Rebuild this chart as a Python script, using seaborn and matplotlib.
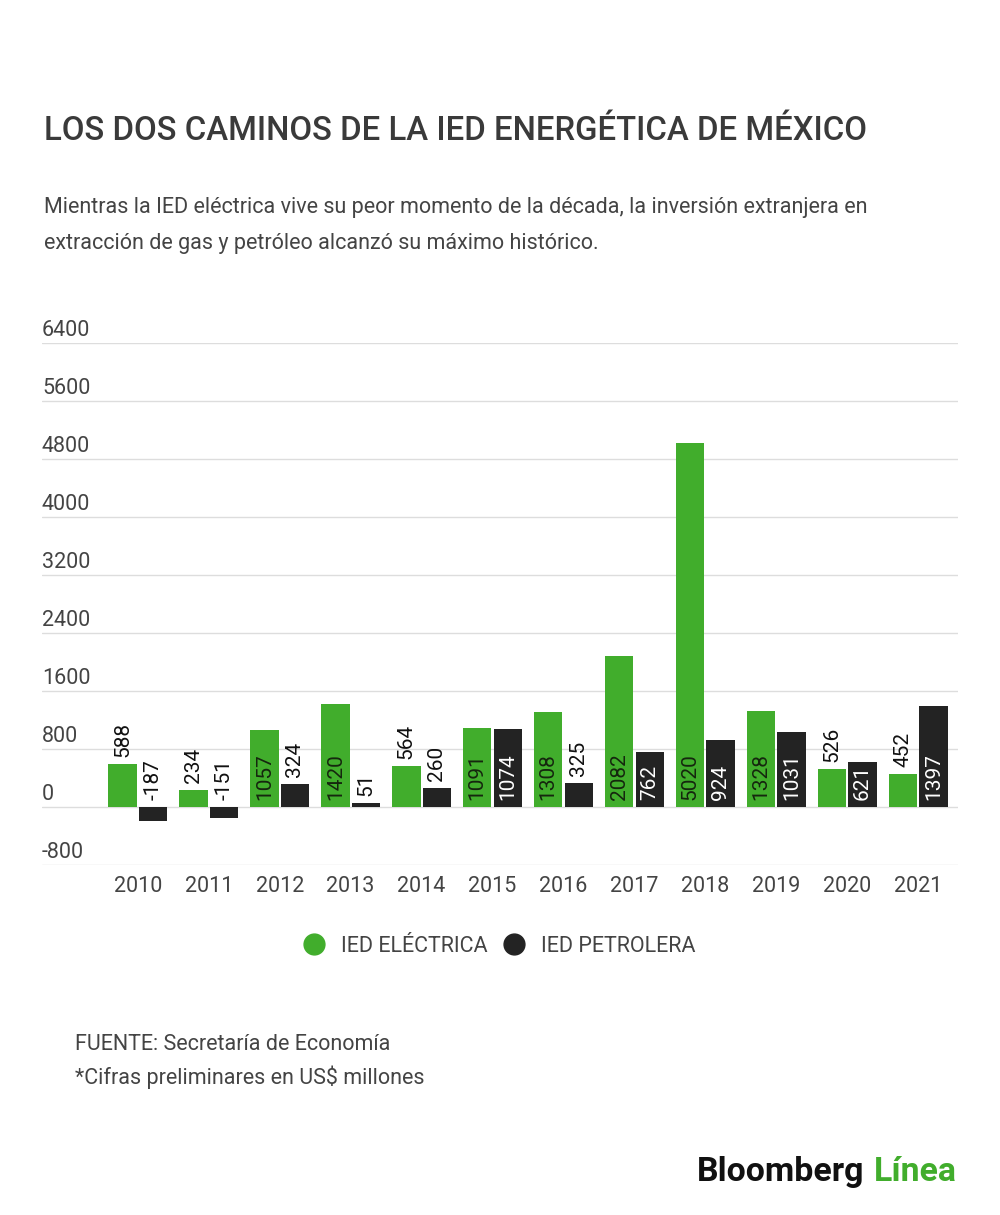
import matplotlib
matplotlib.use("Agg")
import matplotlib.pyplot as plt
import matplotlib.transforms as mtransforms
from matplotlib.lines import Line2D
import seaborn as sns
import pandas as pd

years = ["2010", "2011", "2012", "2013", "2014", "2015", "2016", "2017", "2018", "2019", "2020", "2021"]
ied_electrica = [588, 234, 1057, 1420, 564, 1091, 1308, 2082, 5020, 1328, 526, 452]
ied_petrolera = [-187, -151, 324, 51, 260, 1074, 325, 762, 924, 1031, 621, 1397]
series_names = ["IED ELÉCTRICA", "IED PETROLERA"]
y_ticks = [-800, 0, 800, 1600, 2400, 3200, 4000, 4800, 5600, 6400]

GREEN = "#41ad2c"
DARK = "#232323"
TEXT = "#444444"

df = pd.DataFrame({
    "year": years * 2,
    "value": ied_electrica + ied_petrolera,
    "serie": [series_names[0]] * len(years) + [series_names[1]] * len(years),
})

sns.set_theme(style="white")
plt.rcParams["font.family"] = ["Roboto", "DejaVu Sans"]

fig = plt.figure(figsize=(10, 12.15), dpi=100)
fig.patch.set_facecolor("white")
ax = fig.add_axes([0.042, 1 - 865 / 1215, 0.916, (865 - 343) / 1215])

sns.barplot(data=df, x="year", y="value", hue="serie", order=years,
            hue_order=series_names, palette=[GREEN, DARK], width=0.86,
            gap=0.07, legend=False, ax=ax, saturation=1, edgecolor="none")

ax.set_ylim(-800, 6400)
ax.set_xlim(-1.35, 11.56)
ax.set_yticks(y_ticks)
ax.set_yticklabels([])
ax.grid(axis="y", color="#dddddd", linewidth=1.0)
ax.set_axisbelow(True)
for s in ax.spines.values():
    s.set_visible(False)
ax.tick_params(axis="both", length=0)
ax.tick_params(axis="x", pad=8, labelsize=15.5, labelcolor=TEXT)
ax.set_xlabel("")
ax.set_ylabel("")

# y tick labels above gridlines, left aligned
trans_y = mtransforms.blended_transform_factory(ax.transAxes, ax.transData)
trans_y = mtransforms.offset_copy(trans_y, fig=fig, x=0, y=1.5, units="points")
for t in y_ticks:
    ax.text(0.0, t, str(t), transform=trans_y, ha="left", va="bottom",
            fontsize=15.5, color=TEXT)

# data labels
inside_up = mtransforms.offset_copy(ax.transData, fig=fig, x=0, y=5, units="points")
for container, vals, incolor in zip(ax.containers, [ied_electrica, ied_petrolera],
                                    ["#15260e", "white"]):
    for rect, v in zip(container.patches, vals):
        cx = rect.get_x() + rect.get_width() / 2
        if v >= 600:
            ax.text(cx, 0, str(v), transform=inside_up, rotation=90, ha="center",
                    va="bottom", fontsize=15, color=incolor)
        else:
            base = max(v, 0)
            ax.text(cx, base, str(v), transform=inside_up, rotation=90, ha="center",
                    va="bottom", fontsize=15, color="#111111")

# legend
handles = [Line2D([0], [0], marker="o", linestyle="none", markersize=15,
                  markerfacecolor=c, markeredgecolor=c) for c in [GREEN, DARK]]
fig.legend(handles, series_names, loc="center", bbox_to_anchor=(0.494, 1 - 946 / 1215),
           ncol=2, frameon=False, fontsize=15.5, handletextpad=0.25, columnspacing=0.25,
           labelcolor=TEXT)

# titles
fig.text(0.044, 1 - 131 / 1215, "LOS DOS CAMINOS DE LA IED ENERGÉTICA DE MÉXICO",
         fontsize=23.7, fontweight="medium", color="#3a3a3a", va="center", ha="left")
fig.text(0.044, 1 - 208 / 1215,
         "Mientras la IED eléctrica vive su peor momento de la década, la inversión extranjera en",
         fontsize=15.5, color=TEXT, va="center", ha="left")
fig.text(0.044, 1 - 243 / 1215,
         "extracción de gas y petróleo alcanzó su máximo histórico.",
         fontsize=15.5, color=TEXT, va="center", ha="left")

# footer
fig.text(0.075, 1 - 1045 / 1215, "FUENTE: Secretaría de Economía",
         fontsize=15.5, color=TEXT, va="center", ha="left")
fig.text(0.075, 1 - 1077 / 1215, "*Cifras preliminares en US$ millones",
         fontsize=15.5, color=TEXT, va="center", ha="left")

# logo
t1 = fig.text(0.697, 1 - 1172 / 1215, "Bloomberg", fontsize=24.4, fontweight="bold",
              color="#111111", va="center", ha="left")
fig.canvas.draw()
bb = t1.get_window_extent()
fig.text((bb.x1 + 9) / 1000, 1 - 1172 / 1215, "Línea", fontsize=24.4, fontweight="bold",
         color=GREEN, va="center", ha="left")

fig.savefig("out.png", dpi=100, facecolor="white")
